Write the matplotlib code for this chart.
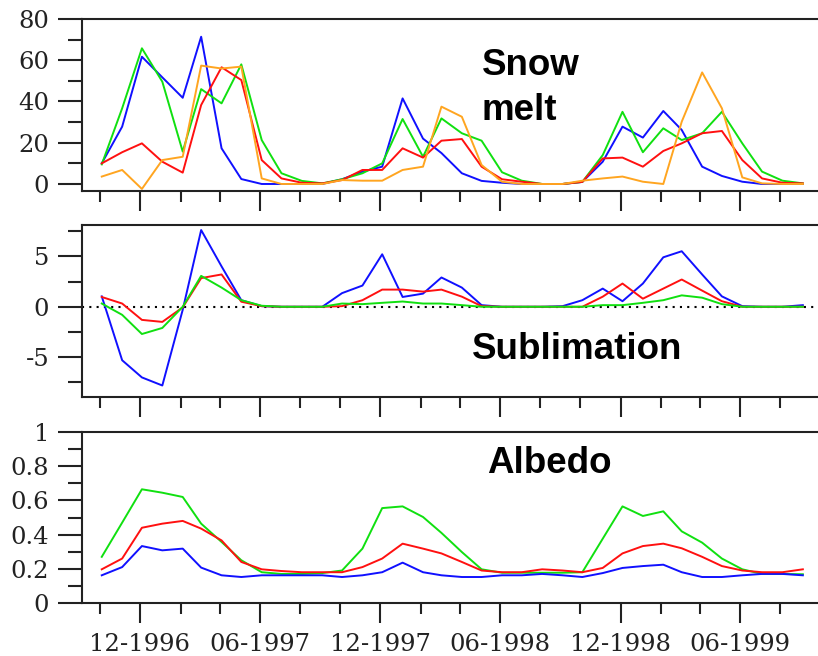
import numpy as np
import pandas as pd
import matplotlib
matplotlib.use("Agg")
import matplotlib.pyplot as plt
import matplotlib.dates as mdates
from matplotlib.ticker import MultipleLocator

plt.rcParams['axes.unicode_minus'] = False

# ---------------- data ----------------
months = pd.date_range('1996-10-01', periods=36, freq='MS') + pd.Timedelta(days=3)

melt_blue = [10, 27.8, 61.7, 51.7, 41.8, 71.4, 17.3, 2.4, 0, 0, 0, 0, 2.3, 6, 8.4, 41.5, 22, 15,
             5.2, 1.5, 0.6, 0, 0, 0, 1, 10.8, 27.8, 22.5, 35.4, 26.2, 8.4, 3.9, 1.1, 0, 0, 0]
melt_green = [9.5, 36.7, 65.8, 49.6, 15.7, 46, 39.1, 58, 21.3, 5.2, 1.5, 0.3, 2.3, 5.2, 10, 31.5, 13.2, 31.8,
              24.6, 21, 5.7, 1.6, 0, 0, 1, 14, 35, 15.4, 27, 21.3, 24.6, 35, 19.7, 6, 1.6, 0.3]
melt_red = [10, 15.4, 19.7, 10.8, 5.5, 38.3, 56.6, 50.4, 11.6, 2.7, 0.6, 0.3, 1.9, 6.8, 6.8, 17.3, 12.8, 21,
            21.8, 8.4, 2.3, 1.1, 0, 0, 1, 12.4, 12.8, 8.4, 16, 19.7, 24.6, 25.7, 11.6, 2.7, 0.6, 0.3]
melt_orange = [3.6, 6.8, -2.4, 11.6, 13.2, 57.4, 56, 56.9, 2.7, 0, 0, 0, 1.9, 1.6, 1.6, 6.8, 8.4, 37.5,
               32.6, 9.2, 1.1, 0, 0, 0, 1.6, 2.7, 3.6, 1.1, 0, 30.2, 54.1, 36.7, 3.2, 0.3, 0, 0]

sub_blue = [1.03, -5.3, -7.0, -7.8, -0.3, 7.6, 4.0, 0.65, 0.06, 0, 0, 0, 1.35, 2.1, 5.2, 0.97, 1.3, 2.9,
            1.9, 0.16, 0, 0, 0, 0.06, 0.65, 1.8, 0.55, 2.3, 4.9, 5.5, 3.2, 1.03, 0.06, 0, 0, 0.16]
sub_red = [0.97, 0.32, -1.3, -1.5, -0.06, 2.84, 3.2, 0.5, 0.06, 0, 0, 0, 0.06, 0.65, 1.7, 1.7, 1.5, 1.7,
           1.0, 0.06, 0, 0, 0, 0, 0, 1.0, 2.3, 0.8, 1.8, 2.7, 1.6, 0.55, 0, 0, 0, 0]
sub_green = [0.32, -0.8, -2.7, -2.1, 0, 3.06, 1.9, 0.65, 0.1, 0, 0, 0, 0.32, 0.26, 0.39, 0.52, 0.32, 0.32,
             0.16, 0, 0, 0, 0, 0, 0, 0.16, 0.16, 0.39, 0.65, 1.13, 0.9, 0.26, 0, 0, 0, 0]

alb_blue = [0.162, 0.21, 0.333, 0.308, 0.318, 0.207, 0.162, 0.152, 0.162, 0.162, 0.162, 0.162,
            0.152, 0.162, 0.18, 0.236, 0.18, 0.162, 0.152, 0.152, 0.162, 0.162, 0.17, 0.162,
            0.152, 0.175, 0.205, 0.216, 0.224, 0.18, 0.152, 0.152, 0.162, 0.17, 0.17, 0.162]
alb_green = [0.27, 0.47, 0.665, 0.645, 0.62, 0.464, 0.357, 0.25, 0.18, 0.17, 0.17, 0.175,
             0.19, 0.318, 0.555, 0.565, 0.503, 0.41, 0.298, 0.197, 0.177, 0.177, 0.177, 0.177,
             0.18, 0.376, 0.565, 0.509, 0.536, 0.419, 0.353, 0.26, 0.197, 0.17, 0.17, 0.168]
alb_red = [0.197, 0.26, 0.44, 0.464, 0.48, 0.435, 0.366, 0.24, 0.197, 0.187, 0.18, 0.18,
           0.18, 0.21, 0.26, 0.347, 0.318, 0.29, 0.24, 0.19, 0.18, 0.18, 0.197, 0.19,
           0.18, 0.205, 0.29, 0.333, 0.347, 0.32, 0.27, 0.216, 0.19, 0.18, 0.18, 0.197]

panel_titles = ["Snow\nmelt", "Sublimation", "Albedo"]

# ---------------- style ----------------
BLUE, RED, GREEN, ORANGE = '#1010ff', '#ff1010', '#10e010', '#ffa520'
LW = 1.4
AX_COLOR = '#222222'
TICK_FONT = dict(family='DejaVu Serif', size=17.5)
TITLE_FONT = dict(family='Liberation Sans', size=26.5, weight='bold')

W, H = 818, 656
fig = plt.figure(figsize=(W / 100, H / 100), dpi=100)


def make_axes(top_px, bottom_px):
    ax = fig.add_axes([82 / W, 1 - bottom_px / H, 1 - 82 / W, (bottom_px - top_px) / H])
    for s in ['left', 'top', 'bottom']:
        ax.spines[s].set_linewidth(1.5)
        ax.spines[s].set_color(AX_COLOR)
    ax.spines['right'].set_visible(False)
    ax.set_xlim(pd.Timestamp('1996-09-04'), pd.Timestamp('1999-09-27'))
    ax.xaxis.set_major_locator(mdates.MonthLocator(bymonth=[6, 12]))
    ax.xaxis.set_minor_locator(mdates.MonthLocator(bymonth=[2, 4, 8, 10]))
    ax.xaxis.set_major_formatter(mdates.DateFormatter('%m-%Y'))
    ax.tick_params(axis='x', which='major', direction='out', length=14.5, width=1.5,
                   color=AX_COLOR, pad=7)
    ax.tick_params(axis='x', which='minor', direction='out', length=8, width=1.5, color=AX_COLOR)
    ax.tick_params(axis='y', which='major', direction='out', length=17, width=1.5,
                   color=AX_COLOR, pad=6.5)
    ax.tick_params(axis='y', which='minor', direction='out', length=10, width=1.5, color=AX_COLOR)
    ax.tick_params(labelsize=TICK_FONT['size'], labelcolor=AX_COLOR)
    return ax


# Snow melt
ax1 = make_axes(19, 191)
ax1.plot(months, melt_blue, color=BLUE, lw=LW)
ax1.plot(months, melt_green, color=GREEN, lw=LW)
ax1.plot(months, melt_red, color=RED, lw=LW)
ax1.plot(months, melt_orange, color=ORANGE, lw=LW)
ax1.set_ylim(-3.4, 80)
ax1.yaxis.set_major_locator(MultipleLocator(20))
ax1.yaxis.set_minor_locator(MultipleLocator(10))
ax1.tick_params(axis='x', labelbottom=False)

# Sublimation
ax2 = make_axes(225, 397)
ax2.axhline(0, color='black', lw=1.5, linestyle=(0, (1, 2.5)), zorder=1)
ax2.plot(months, sub_blue, color=BLUE, lw=LW)
ax2.plot(months, sub_red, color=RED, lw=LW)
ax2.plot(months, sub_green, color=GREEN, lw=LW)
ax2.set_ylim(-8.94, 8.1)
ax2.set_yticks([-5, 0, 5])
ax2.set_yticks([-7.5, -2.5, 2.5, 7.5], minor=True)
ax2.tick_params(axis='x', labelbottom=False)

# Albedo
ax3 = make_axes(432, 603)
ax3.plot(months, alb_green, color=GREEN, lw=LW)
ax3.plot(months, alb_blue, color=BLUE, lw=LW)
ax3.plot(months, alb_red, color=RED, lw=LW)
ax3.set_ylim(0, 1)
ax3.yaxis.set_major_locator(MultipleLocator(0.2))
ax3.yaxis.set_minor_locator(MultipleLocator(0.1))
ax3.yaxis.set_major_formatter(matplotlib.ticker.FuncFormatter(lambda v, p: f"{v:g}"))

for ax in (ax1, ax2, ax3):
    for lab in ax.get_yticklabels() + ax.get_xticklabels():
        lab.set_fontfamily(TICK_FONT['family'])
        lab.set_fontsize(TICK_FONT['size'])

# panel titles (baseline of last line)
fig.text(482 / W, 1 - 120 / H, panel_titles[0], ha='left', va='baseline',
         linespacing=1.38, **TITLE_FONT)
fig.text(472 / W, 1 - 359 / H, panel_titles[1], ha='left', va='baseline', **TITLE_FONT)
fig.text(487 / W, 1 - 473 / H, panel_titles[2], ha='left', va='baseline', **TITLE_FONT)

fig.savefig('out.png', dpi=100)
